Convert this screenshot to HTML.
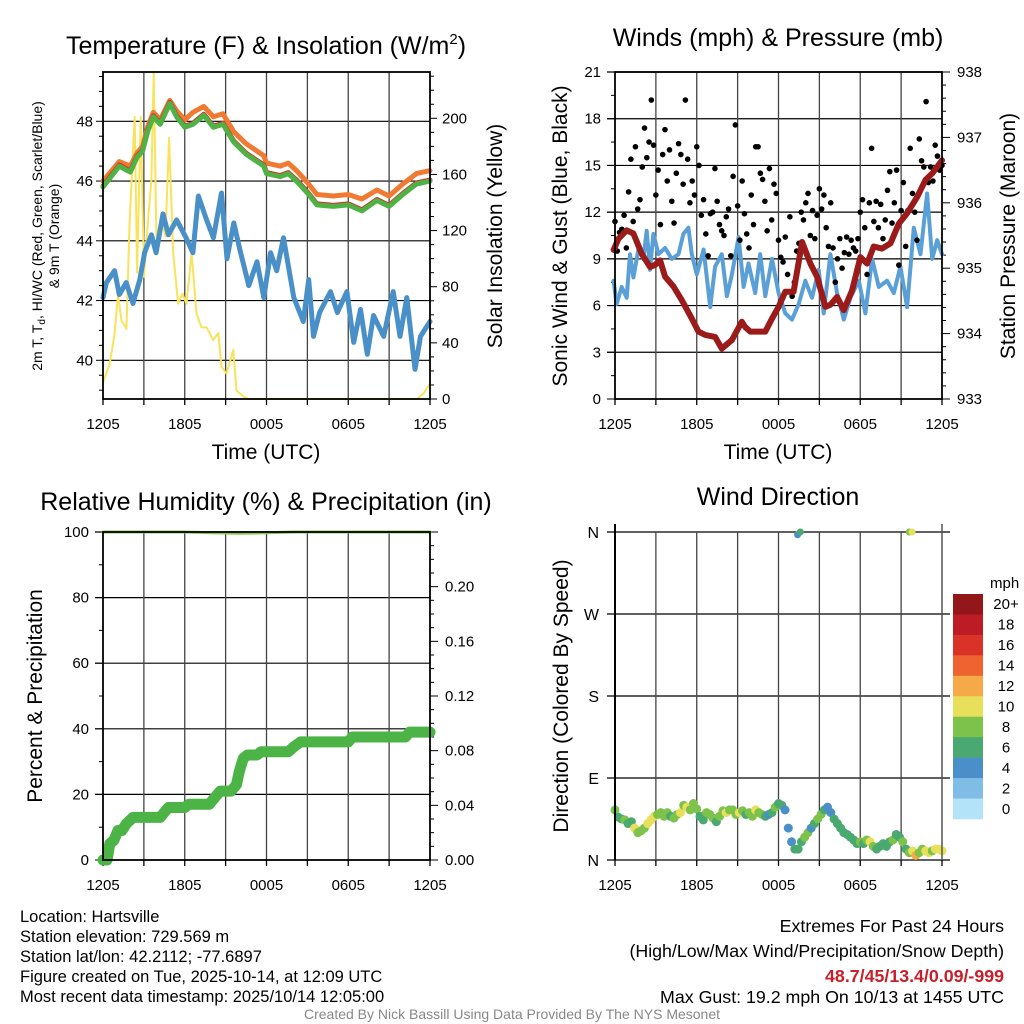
<!DOCTYPE html>
<html><head><meta charset="utf-8"><style>
html,body{margin:0;padding:0;background:#fff;}
svg{display:block;font-family:"Liberation Sans",sans-serif;}
</style></head><body>
<svg id="chart" width="1024" height="1024" viewBox="0 0 1024 1024" xmlns="http://www.w3.org/2000/svg">
<rect width="1024" height="1024" fill="#fff"/>
<g id="p1"></g>
<g id="p2"></g>
<g id="p3"></g>
<g id="p4"></g>
<g font-size="16.5" fill="#000">
<text x="20" y="922">Location: Hartsville</text>
<text x="20" y="942">Station elevation: 729.569 m</text>
<text x="20" y="962">Station lat/lon: 42.2112; -77.6897</text>
<text x="20" y="982">Figure created on Tue, 2025-10-14, at 12:09 UTC</text>
<text x="20" y="1002">Most recent data timestamp: 2025/10/14 12:05:00</text>
</g>
<g font-size="17.8" text-anchor="end">
<text x="1004" y="932">Extremes For Past 24 Hours</text>
<text x="1004" y="957">(High/Low/Max Wind/Precipitation/Snow Depth)</text>
<text x="1004" y="982" fill="#c8202a" font-weight="bold">48.7/45/13.4/0.09/-999</text>
<text x="1004" y="1003">Max Gust: 19.2 mph On 10/13 at 1455 UTC</text>
</g>
<text x="512" y="1019" font-size="14" fill="#888" text-anchor="middle">Created By Nick Bassill Using Data Provided By The NYS Mesonet</text>
</svg>
<script>
// ---- data ----
const timeLabels = ["1205","1805","0005","0605","1205"];
const tempTimes = [0,1.2,2,2.5,2.9,3.3,3.7,4.2,4.9,5.4,6,6.6,7.4,8.1,8.8,9.6,10.5,11.8,12,13,13.6,14.2,15,15.7,16.9,18,19,20.1,21,22,23,24];
const tempGreen = [45.8,46.5,46.3,46.8,47.0,47.7,48.15,47.9,48.6,48.15,47.8,47.9,48.2,47.8,47.9,47.3,46.9,46.5,46.25,46.15,46.25,46.0,45.6,45.2,45.15,45.2,45.0,45.35,45.15,45.55,45.9,46.0];
const tempOrange = [46.0,46.65,46.5,46.95,47.15,47.85,48.3,48.05,48.7,48.35,48.05,48.3,48.5,48.15,48.25,47.65,47.25,46.85,46.6,46.5,46.6,46.35,45.95,45.55,45.5,45.55,45.4,45.7,45.5,45.9,46.25,46.35];
const dewTimes = [0,0.25,0.85,1.2,1.7,2.2,2.7,3.05,3.55,3.9,4.4,4.8,5.4,6.1,6.6,7.0,7.6,8.1,8.7,9.1,9.6,10.05,10.7,11.3,11.8,12.3,12.75,13.25,14.0,14.7,15.1,15.45,15.9,16.7,17.2,17.9,18.4,18.9,19.4,19.85,20.6,21.3,21.8,22.3,22.9,23.3,24];
const dewBlue = [42.1,42.6,43.0,42.2,42.6,41.9,42.7,43.6,44.2,43.6,44.9,44.2,44.7,44.1,43.6,45.5,44.7,44.1,45.6,43.4,44.6,43.7,42.5,43.3,42.1,43.6,43.0,44.1,42.1,41.3,42.7,40.8,41.6,42.3,41.6,42.3,40.6,41.7,40.2,41.5,40.8,42.3,40.8,42.1,39.7,40.8,41.3];
const insolTimes = [0,0.49,0.86,1.1,1.35,1.72,1.96,2.33,2.5,2.77,3.01,3.31,3.55,3.72,3.92,4.29,4.58,4.85,5.15,5.51,5.83,6.13,6.5,6.86,7.23,7.6,8.09,8.46,8.7,9.07,9.56,9.8,10.29,10.66,23.04,23.53,24];
const insolVals = [12,25,47,75,56,50,128,201,90,201,87,128,156,232,116,128,116,186,104,68,75,68,104,61,51,51,42,47,23,18,35,6,2,0,0,4,11];
const windTimes = [-0.1,0.12,0.49,0.86,1.1,1.35,1.72,2.08,2.33,2.57,2.82,3.19,3.68,4.17,4.66,5.02,5.39,5.64,6.0,6.5,6.99,7.35,7.84,8.21,8.58,9.07,9.44,9.8,10.29,10.66,11.03,11.52,12.01,12.5,12.99,13.48,13.97,14.46,14.95,15.32,15.81,16.3,16.79,17.28,17.89,18.38,18.87,19.36,19.97,20.46,20.95,21.44,21.93,22.42,22.91,23.28,23.65,24];
const windBlue = [7.6,6.1,7.2,6.5,9.3,7.8,9.6,9.0,10.8,8.3,10.6,9.3,9.7,9.0,9.3,10.6,11.0,9.3,8.0,9.6,5.9,8.5,9.3,6.6,8.0,10.4,7.2,8.7,6.8,9.3,6.6,9.0,6.8,5.5,5.1,6.1,7.6,6.5,8.3,5.5,9.3,6.8,5.1,6.5,7.6,5.5,9.0,7.2,7.6,6.8,8.5,5.9,11.0,9.3,13.2,9.0,10.2,9.3];
const presTimes = [-0.1,0.25,0.86,1.35,1.96,2.57,2.94,3.31,3.68,4.29,4.9,5.64,6.13,6.62,7.35,7.84,8.58,9.31,9.56,9.93,10.54,11.03,11.52,12.01,12.5,13.11,13.73,14.34,14.83,15.44,15.81,16.3,16.79,17.4,18.01,18.5,18.99,19.6,20.22,20.83,21.44,22.18,22.79,23.28,24];
const pressure = [935.28,935.45,935.58,935.53,935.22,935.02,935.05,935.12,934.87,934.72,934.51,934.23,934.03,933.98,933.95,933.77,933.9,934.18,934.1,934.03,934.03,934.03,934.23,934.41,934.64,934.64,935.4,935.07,934.87,934.41,934.44,934.56,934.36,934.66,935.17,935.07,935.33,935.3,935.38,935.68,935.84,936.09,936.35,936.45,936.65];
const gusts = [11.4,9.5,10.7,10.9,11.8,9.7, 13.3,15.4,11.4,16.2,12.2,12.8, 14.9,17.4,15.5,16.5,19.2,16.3, 13.1,14.7,11.2,15.7,17.3,14.0, 16.0,12.7,11.3,14.5,16.4,15.7, 13.8,19.2,15.4,12.6,14.0,13.1, 16.2,15.0,11.8,12.8,10.6,9.2, 11.9,12.0,14.8,12.7,11.2,10.8, 10.5,11.7,12.2,9.2,14.3,17.6, 12.4,10.2,14.0,11.9,10.6,9.7, 13.1,11.2,16.2,16.2,14.5,14.1, 12.7,10.8,14.8,11.5,13.8,13.2, 10.2,9.1,8.8,10.4,8.0,11.7, 6.6,7.5,9.5,10.0,12.0,11.5, 12.6,13.2,10.5,12.1,10.3,11.8, 13.5,12.2,13.1,11.0,9.8,12.6, 9.7,7.5,9.0,10.3,8.4,9.4, 10.4,9.3,10.2,9.7,9.5,10.3, 12.0,12.8,11.0,8.0,12.6,16.1, 11.4,12.7,11.0,12.5,10.3,11.5, 13.4,14.6,11.3,12.6,14.7,8.6, 12.1,13.9,9.8,12.1,16.1,13.2, 12.0,10.2,16.7,15.3,14.9,19.1, 13.9,14.9,14.0,16.3,15.6,14.7, 15.0];
const rhVals = [100,100,100,100,99.8,99.6,99.8,100,100,100,100,100,100];
const precipTimes = [0,0.3,0.5,0.8,1.1,1.4,1.7,2.2,4.2,4.5,4.8,6.0,6.3,7.8,8.2,8.6,9.4,9.8,10.0,10.3,10.6,11.3,11.6,13.6,14.0,14.5,18.0,18.3,22.2,22.5,24];
const precipVals = [0,0,0.012,0.0144,0.0216,0.0216,0.0264,0.0312,0.0312,0.0348,0.0384,0.0384,0.0408,0.0408,0.0456,0.0504,0.0504,0.0552,0.0648,0.0744,0.0768,0.0768,0.0792,0.0792,0.0828,0.0864,0.0864,0.09,0.09,0.0936,0.0936];
const dirs = [55,47,45,44,40,42,35,30,32,35,40,44, 48,50,52,48,52,48,46,50,52,60,58,55, 62,56,48,44,52,50,46,42,48,54,52,55, 55,50,52,54,50,52,48,55,52,50,48,50, 52,58,62,60,55,35,20,12, 12,20,25,30,35,40,45,50,55,58,52,45, 40,35,30,28,25,22,18,20, 18,22,20,15,12,15,18,15, 20,22,28,25,20,12,8,10, 5,8,12,10,8,10,12,12,10];
const dirSpeeds = [8,6,6,8,6,6,10,8,8,8,10,10, 10,8,8,9,8,7,8,8,10,8,11,8, 8,8,7,6,8,8,9,7,8,8,10,8, 8,9,10,8,7,8,8,10,8,8,6,5, 6,8,7,6,4,4,4,6, 7,7,8,8,5,6,8,8,6,4,5,6, 6,6,6,7,6,6,6,8, 7,9,10,8,6,7,7,6, 7,8,6,7,8,7,9,10, 12,8,8,10,10,8,10,10,10];
const topDirTimes = [13.4,13.6,21.6,21.8];
const topDirs = [357,360,360,360];
const topSpeeds = [4,6,8,10];
const cbLabels = ["20+","18","16","14","12","10","8","6","4","2","0"];
const cbColors = ["#93161a","#bd1c26","#db3228","#ee6430","#f6a947","#e8e05a","#7dc24a","#4aa871","#4a8fc7","#7fbde6","#b3e3f8"];

const NS="http://www.w3.org/2000/svg";
function mk(parent,tag,attrs){const e=document.createElementNS(NS,tag);for(const k in attrs)e.setAttribute(k,attrs[k]);parent.appendChild(e);return e;}
function txt(parent,x,y,s,attrs){const e=mk(parent,'text',Object.assign({x:x,y:y},attrs||{}));e.textContent=s;return e;}
function speedColor(s){let i=Math.min(10,Math.floor(s/2));return cbColors[10-i];}
const TICK=15, TITLE=25, AXT=21;

function panel(g,X0,X1,Y0,Y1){
  const xs=t=>X0+t*(X1-X0)/24;
  for(let h=3;h<24;h+=3){const l=mk(g,'line',{x1:xs(h),x2:xs(h),y1:Y0,y2:Y1,stroke:'#444','stroke-width':1.3});
    
    }
  for(let i=0;i<=8;i++){const x=xs(i*3);mk(g,'line',{x1:x,x2:x,y1:Y1,y2:Y1+6,stroke:'#000','stroke-width':1.3});}
  timeLabels.forEach((s,i)=>{const t=txt(g,xs(i*6),Y1+30,s,{'font-size':TICK,'text-anchor':'middle'});
    
    });
  return xs;
}
function hgrid(g,X0,X1,y){const l=mk(g,'line',{x1:X0,x2:X1,y1:y,y2:y,stroke:'#000','stroke-width':1.2});
  
  }
function frame(g,X0,X1,Y0,Y1){const r=mk(g,'rect',{x:X0,y:Y0,width:X1-X0,height:Y1-Y0,fill:'none',stroke:'#000','stroke-width':1.8});
  
  }
function linePath(g,xsArr,ysArr,color,w,name){let d='';xsArr.forEach((x,i)=>{d+=(i?'L':'M')+x.toFixed(1)+','+ysArr[i].toFixed(1);});
  const p=mk(g,'path',{d:d,fill:'none',stroke:color,'stroke-width':w,'stroke-linejoin':'round','stroke-linecap':'round'});
  
  return p;}
function stepTimes(n){return Array.from({length:n},(_,i)=>i*24/(n-1));}

// ---------- Panel 1 ----------
(function(){
  const g=document.getElementById('p1');const X0=103,X1=430,Y0=72,Y1=399;
  const ys=v=>360.3-(v-40)*(360.3-121.3)/8;
  const yr=v=>399-v*(399-118.3)/200;
  [40,42,44,46,48].forEach(v=>hgrid(g,X0,X1,ys(v)));
  const xs=panel(g,X0,X1,Y0,Y1);
  for(let v=39;v<=49.5;v+=0.5){const y=ys(v);if(y<Y0||y>Y1)continue;const major=(v%2===0);mk(g,'line',{x1:X0-(major?7:4),x2:X0,y1:y,y2:y,stroke:'#000','stroke-width':1});}
  [40,42,44,46,48].forEach(v=>{const t=txt(g,X0-10,ys(v)+5,String(v),{'font-size':TICK,'text-anchor':'end'});
    
    });
  for(let v=0;v<=230;v+=10){const y=yr(v);mk(g,'line',{x1:X1,x2:X1+(v%40===0?7:4),y1:y,y2:y,stroke:'#000','stroke-width':1});}
  [0,40,80,120,160,200].forEach(v=>{const t=txt(g,X1+12,yr(v)+5,String(v),{'font-size':TICK});
    
    });
  linePath(g,insolTimes.map(xs),insolVals.map(yr),'#f9e35a',2,'insolation-line');
  linePath(g,dewTimes.map(xs),dewBlue.map(ys),'#4a90c8',5,'dewpoint-line');
  linePath(g,tempTimes.map(xs),tempOrange.map(ys),'#f07a32',5,'temp-9m-line');
  linePath(g,tempTimes.map(xs),tempGreen.map(v=>ys(v)-1),'#d42a2a',5,'temp-2m-red-line');
  linePath(g,tempTimes.map(xs),tempGreen.map(ys),'#4fb245',5,'heat-index-line');
  frame(g,X0,X1,Y0,Y1);
  const t1=txt(g,266,54,'',{'font-size':TITLE,'text-anchor':'middle'});t1.innerHTML='Temperature (F) &amp; Insolation (W/m<tspan font-size="15" dy="-10">2</tspan><tspan dy="10">)</tspan>';
  
  
  const xl=txt(g,266,459,'Time (UTC)',{'font-size':AXT,'text-anchor':'middle'});
  
  
  const yl=txt(g,0,0,'',{'font-size':14,'text-anchor':'middle',transform:'translate(42,236) rotate(-90)'});
  yl.innerHTML='2m T, T<tspan font-size="10" dy="3">d</tspan><tspan dy="-3">, HI/WC (Red, Green, Scarlet/Blue)</tspan>';
  
  
  const yl2=txt(g,0,0,'& 9m T (Orange)',{'font-size':14,'text-anchor':'middle',transform:'translate(59,236) rotate(-90)'});
  
  
  const yr2=txt(g,0,0,'Solar Insolation (Yellow)',{'font-size':AXT,'text-anchor':'middle',transform:'translate(502,236) rotate(-90)'});
  
  
})();

// ---------- Panel 2 ----------
(function(){
  const g=document.getElementById('p2');const X0=615,X1=942,Y0=72,Y1=399;
  const ys=v=>Y1-v*(Y1-Y0)/21;
  const yp=v=>Y1-(v-933)*(Y1-Y0)/5;
  [3,6,9,12,15,18,21].forEach(v=>hgrid(g,X0-8,X1,ys(v)));
  const xs=panel(g,X0,X1,Y0,Y1);
  for(let v=0;v<=21;v+=1.5){mk(g,'line',{x1:X0-(v%3===0?8:4),x2:X0,y1:ys(v),y2:ys(v),stroke:'#000','stroke-width':1});}
  [0,3,6,9,12,15,18,21].forEach(v=>{const t=txt(g,X0-14,ys(v)+5,String(v),{'font-size':TICK,'text-anchor':'end'});
    
    });
  for(let v=933;v<=938.001;v+=0.2){mk(g,'line',{x1:X1,x2:X1+(Math.abs(v-Math.round(v))<0.01?8:4),y1:yp(v),y2:yp(v),stroke:'#000','stroke-width':1});}
  [933,934,935,936,937,938].forEach(v=>{const t=txt(g,X1+15,yp(v)+5,String(v),{'font-size':TICK});
    
    });
  linePath(g,windTimes.map(xs),windBlue.map(ys),'#5a9fd6',4,'sonic-wind-line');
  const gt=stepTimes(gusts.length);
  gusts.forEach((v,i)=>{const c=mk(g,'circle',{cx:xs(gt[i]),cy:ys(v),r:2.8,fill:'#000'});
    
    });
  linePath(g,presTimes.map(xs),pressure.map(yp),'#9b1b1b',6,'pressure-line');
  frame(g,X0,X1,Y0,Y1);
  const t1=txt(g,778,46,'Winds (mph) & Pressure (mb)',{'font-size':TITLE,'text-anchor':'middle'});
  
  
  const xl=txt(g,778,459,'Time (UTC)',{'font-size':AXT,'text-anchor':'middle'});
  
  
  const yl=txt(g,0,0,'Sonic Wind & Gust (Blue, Black)',{'font-size':AXT,'text-anchor':'middle',transform:'translate(567,236) rotate(-90)'});
  
  
  const yr2=txt(g,0,0,'Station Pressure (Maroon)',{'font-size':AXT,'text-anchor':'middle',transform:'translate(1015,236) rotate(-90)'});
  
  
})();

// ---------- Panel 3 ----------
(function(){
  const g=document.getElementById('p3');const X0=103,X1=430,Y0=532,Y1=860;
  const ys=v=>Y1-v*(Y1-Y0)/100;
  const yi=v=>Y1-v*(Y1-Y0)/0.24;
  [20,40,60,80,100].forEach(v=>hgrid(g,X0-8,X1,ys(v)));
  const xs=panel(g,X0,X1,Y0,Y1);
  for(let v=0;v<=100;v+=10){mk(g,'line',{x1:X0-(v%20===0?8:4),x2:X0,y1:ys(v),y2:ys(v),stroke:'#000','stroke-width':1});}
  [0,20,40,60,80,100].forEach(v=>{const t=txt(g,X0-14,ys(v)+5,String(v),{'font-size':TICK,'text-anchor':'end'});
    
    });
  for(let v=0;v<=0.2401;v+=0.01){mk(g,'line',{x1:X1,x2:X1+(Math.round(v*100)%4===0?8:4),y1:yi(v),y2:yi(v),stroke:'#000','stroke-width':1});}
  [0,0.04,0.08,0.12,0.16,0.20].forEach(v=>{const t=txt(g,X1+15,yi(v)+5,v.toFixed(2),{'font-size':TICK});
    
    });
  linePath(g,stepTimes(rhVals.length).map(xs),rhVals.map(ys),'#8cc63f',3,'relative-humidity-line');
  linePath(g,precipTimes.map(xs),precipVals.map(yi),'#4cb447',11,'precipitation-line');
  frame(g,X0,X1,Y0,Y1);
  const t1=txt(g,266,510,'Relative Humidity (%) & Precipitation (in)',{'font-size':TITLE,'text-anchor':'middle'});
  
  
  const yl=txt(g,0,0,'Percent & Precipitation',{'font-size':AXT,'text-anchor':'middle',transform:'translate(42,696) rotate(-90)'});
  
  
})();

// ---------- Panel 4 ----------
(function(){
  const g=document.getElementById('p4');const X0=615,X1=942,Y0=532,Y1=860;
  const ys=v=>Y1-v*(Y1-Y0)/360;
  const labs=['N','E','S','W','N'];
  [0,90,180,270,360].forEach((v,i)=>{hgrid(g,X0-8,X1+8,ys(v));
    const t=txt(g,X0-16,ys(v)+6,labs[i],{'font-size':16,'text-anchor':'end'});
    
    });
  const xs=panel(g,X0,X1,Y0,Y1);
  const dt=stepTimes(dirs.length);
  dirs.forEach((v,i)=>{const c=mk(g,'circle',{cx:xs(dt[i]),cy:ys(v),r:4.5,fill:speedColor(dirSpeeds[i]??7)});
    
    });
  topDirs.forEach((v,i)=>{const c=mk(g,'circle',{cx:xs(topDirTimes[i]),cy:ys(v),r:3.5,fill:speedColor(topSpeeds[i])});
    
    });
  mk(g,'line',{x1:X0,x2:X0,y1:Y0-8,y2:Y1,stroke:'#000','stroke-width':2});
  mk(g,'line',{x1:X1,x2:X1,y1:Y0-8,y2:Y1,stroke:'#555','stroke-width':1.5});
  const t1=txt(g,778,505,'Wind Direction',{'font-size':TITLE,'text-anchor':'middle'});
  
  
  const yl=txt(g,0,0,'Direction (Colored By Speed)',{'font-size':AXT,'text-anchor':'middle',transform:'translate(568,696) rotate(-90)'});
  
  
  const u=txt(g,990,588,'mph',{'font-size':15});
  
  
  const bh=(819-594)/cbColors.length;
  cbColors.forEach((c,i)=>{const r=mk(g,'rect',{x:953,y:594+i*bh,width:30,height:bh+0.3,fill:c});
    
    
    const t=txt(g,1006,594+i*bh+bh/2+5,cbLabels[i],{'font-size':15,'text-anchor':'middle'});
    
    });
})();
</script>
</body></html>
